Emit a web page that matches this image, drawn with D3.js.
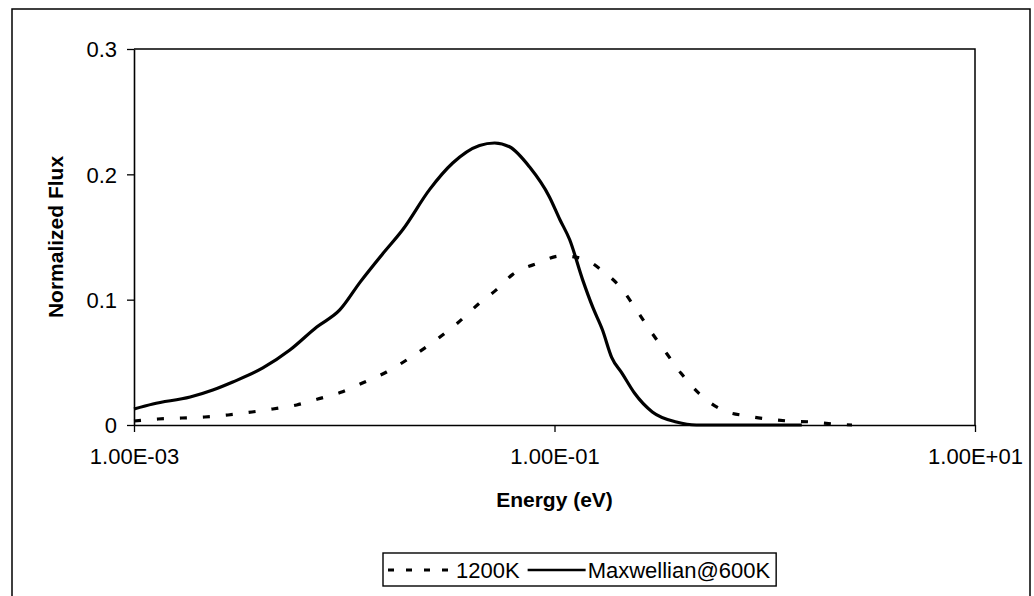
<!DOCTYPE html>
<html>
<head>
<meta charset="utf-8">
<script src="https://cdn.jsdelivr.net/npm/d3@7"></script>
<style>
  html, body { margin: 0; padding: 0; background: #fff; }
  svg { display: block; font-family: "Liberation Sans", Arial, sans-serif; }
</style>
</head>
<body>
<svg id="chart" width="1034" height="596"></svg>
<script>
// Neutron flux spectra, energy in eV
const energyMaxwell = [0.001, 0.00123, 0.00185, 0.00237, 0.00295, 0.0041, 0.00551, 0.0074, 0.00952, 0.0119,
  0.0153, 0.019, 0.0255, 0.0328, 0.044, 0.0519, 0.0611, 0.076, 0.0946, 0.106, 0.118, 0.136, 0.152,
  0.169, 0.187, 0.21, 0.24, 0.292, 0.38, 0.473, 0.8, 1.5];
const fluxMaxwell = [0.0128, 0.0168, 0.0223, 0.0279, 0.0343, 0.0455, 0.0598, 0.0782, 0.0918, 0.114,
  0.137, 0.156, 0.188, 0.209, 0.223, 0.225, 0.222, 0.206, 0.182, 0.164, 0.148, 0.116, 0.094,
  0.076, 0.054, 0.041, 0.0255, 0.0104, 0.0024, 0.0, 0.0, 0.0];

const energy1200 = [0.001, 0.0013, 0.00169, 0.00217, 0.0028, 0.00364, 0.00457, 0.00594, 0.00748, 0.00973,
  0.0122, 0.0159, 0.0205, 0.0269, 0.0346, 0.044, 0.053, 0.0631, 0.083, 0.108, 0.14, 0.169, 0.208,
  0.245, 0.289, 0.345, 0.401, 0.488, 0.628, 0.817, 1.03, 1.29, 1.68, 2.14, 2.6];
const flux1200 = [0.0032, 0.0048, 0.0056, 0.0064, 0.008, 0.0104, 0.0128, 0.016, 0.0207, 0.0263,
  0.0335, 0.0423, 0.0535, 0.067, 0.0814, 0.0973, 0.108, 0.12, 0.129, 0.135, 0.132, 0.123, 0.109,
  0.092, 0.074, 0.056, 0.041, 0.025, 0.012, 0.0072, 0.0048, 0.0032, 0.0024, 0.0008, 0.0];

const xTicks = [0.001, 0.1, 10];
const yTicks = [0, 0.1, 0.2, 0.3];
const seriesNames = ["1200K", "Maxwellian@600K"];

const svg = d3.select("#chart");

// chart frame
svg.append("rect")
  .attr("x", 12).attr("y", 9).attr("width", 1018).attr("height", 600)
  .attr("fill", "none").attr("stroke", "#000").attr("stroke-width", 1.5);

const plot = { left: 134, right: 975, top: 49, bottom: 425 };

const x = d3.scaleLog().domain([0.001, 10]).range([plot.left, plot.right]);
const y = d3.scaleLinear().domain([0, 0.3]).range([plot.bottom, plot.top]);

// plot-area border (top and right)
svg.append("path")
  .attr("d", `M${plot.left},${plot.top}H${plot.right}V${plot.bottom}`)
  .attr("fill", "none").attr("stroke", "#000").attr("stroke-width", 1.5);

function sciFormat(d) {
  const e = Math.round(Math.log10(d));
  const m = d / Math.pow(10, e);
  return m.toFixed(2) + "E" + (e < 0 ? "-" : "+") + String(Math.abs(e)).padStart(2, "0");
}

const xAxis = d3.axisBottom(x).tickValues(xTicks).tickFormat(sciFormat)
  .tickSize(7).tickSizeOuter(0).tickPadding(16);
const yAxis = d3.axisLeft(y).tickValues(yTicks).tickFormat(d => d === 0 ? "0" : d3.format(".1f")(d))
  .tickSize(7).tickSizeOuter(0).tickPadding(10);

const gx = svg.append("g").attr("transform", `translate(0,${plot.bottom})`).call(xAxis);
const gy = svg.append("g").attr("transform", `translate(${plot.left},0)`).call(yAxis);

[gx, gy].forEach(g => {
  g.selectAll("path.domain").attr("stroke", "#000").attr("stroke-width", 1.6);
  g.selectAll(".tick line").attr("stroke", "#000").attr("stroke-width", 1.3);
  g.selectAll(".tick text").attr("fill", "#000")
    .style("font-size", "22px").style("font-family", '"Liberation Sans", Arial, sans-serif');
});
gy.selectAll(".tick text").attr("dy", "0.36em");

// axis titles
svg.append("text")
  .attr("x", (plot.left + plot.right) / 2).attr("y", 507)
  .attr("text-anchor", "middle").attr("font-weight", "bold").attr("font-size", 21)
  .text("Energy (eV)");

svg.append("text")
  .attr("transform", `translate(63,${(plot.top + plot.bottom) / 2}) rotate(-90)`)
  .attr("text-anchor", "middle").attr("font-weight", "bold").attr("font-size", 21)
  .text("Normalized Flux");

// curves
const line = d3.line().x(d => x(d[0])).y(d => y(d[1])).curve(d3.curveMonotoneX);

svg.append("path")
  .datum(d3.zip(energy1200, flux1200))
  .attr("d", line)
  .attr("fill", "none").attr("stroke", "#000")
  .attr("stroke-width", 3.2).attr("stroke-dasharray", "7,16");

svg.append("path")
  .datum(d3.zip(energyMaxwell, fluxMaxwell))
  .attr("d", line)
  .attr("fill", "none").attr("stroke", "#000")
  .attr("stroke-width", 3.2).attr("stroke-linejoin", "round");

// legend
const legend = svg.append("g");
const legendBox = legend.append("rect")
  .attr("x", 383).attr("y", 553).attr("height", 33)
  .attr("fill", "#fff").attr("stroke", "#000").attr("stroke-width", 1.4);

const ly = 570;
let cx = 388;
legend.append("line")
  .attr("x1", cx).attr("x2", cx + 66).attr("y1", ly).attr("y2", ly)
  .attr("stroke", "#000").attr("stroke-width", 3).attr("stroke-dasharray", "6,12");
cx += 68;
const t1 = legend.append("text").attr("x", cx).attr("y", ly + 8)
  .attr("font-size", 22).text(seriesNames[0]);
cx += t1.node().getComputedTextLength() + 8;
legend.append("line")
  .attr("x1", cx).attr("x2", cx + 58).attr("y1", ly).attr("y2", ly)
  .attr("stroke", "#000").attr("stroke-width", 2.5);
cx += 60;
const t2 = legend.append("text").attr("x", cx).attr("y", ly + 8)
  .attr("font-size", 22).text(seriesNames[1]);
cx += t2.node().getComputedTextLength() + 6;
legendBox.attr("width", cx - 383);
</script>
</body>
</html>
